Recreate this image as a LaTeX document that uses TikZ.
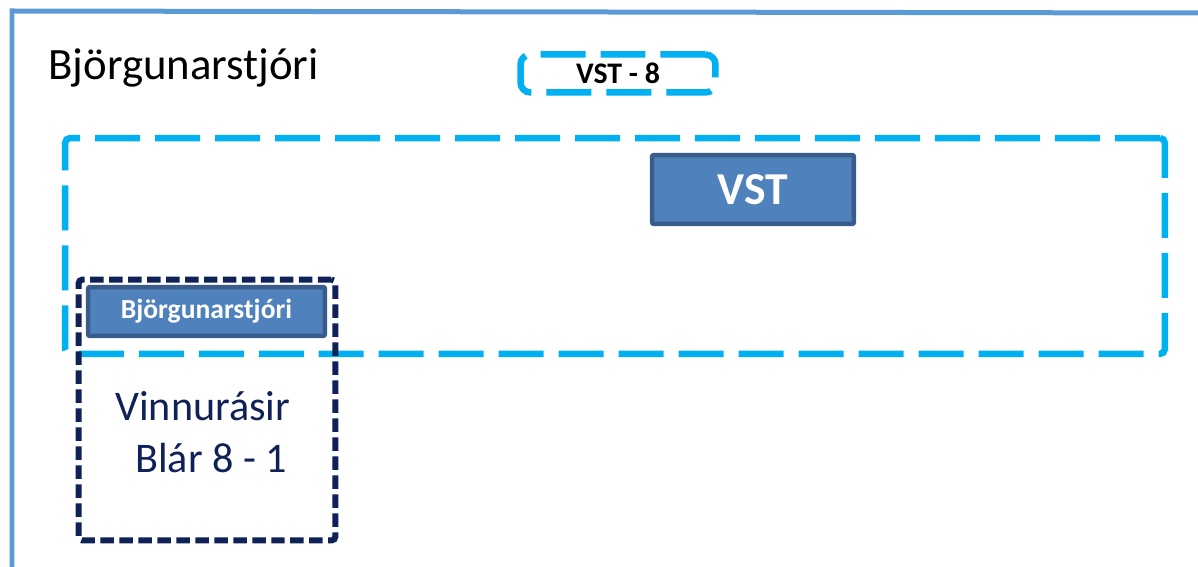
\documentclass[tikz,border=0pt]{standalone}
\usepackage{fontspec}
\setmainfont{Carlito}
\usepackage{tikz}
\usepackage{xcolor}
\definecolor{rammi}{HTML}{5B9BD5}
\definecolor{ljosblar}{HTML}{00B0F0}
\definecolor{kassi}{HTML}{4F81BD}
\definecolor{kassibrun}{HTML}{385D8A}
\definecolor{dokkblar}{HTML}{0F2157}
\tikzset{
	hlutverk/.style={
		draw=kassibrun,
		fill=kassi,
		line width=0.09cm,
		rounded corners=0.04cm,
		text=white,
		%font=\bfseries,
		inner sep=0
	}
}

\begin{document}
\begin{tikzpicture}[x=0.02cm,y=-0.02cm,
	hopur/.style={draw=ljosblar,line width=0.13cm,dash pattern=on 0.9cm off 0.3cm,rounded corners=0.1cm,inner sep=0},
	vinna/.style={draw=dokkblar,line width=0.12cm,dash pattern=on 0.27cm off 0.11cm,rounded corners=0.08cm,inner sep=0}]
	
	% (Bjorgunarstjori - VST - 8)
	\fill[white] (0,0) rectangle (1198,567);
	\useasboundingbox (0,0) rectangle (1198,567);
	\draw[rammi,line width=0.1cm] (12,567) -- (12,11) -- (1198,13);
	\node[anchor=base west,inner sep=0,font=\fontsize{25.5pt}{30pt}\selectfont] (titill) at (48,80) {Björgunarstjóri};
	\node[hopur,rounded corners=0.2cm,minimum width=3.9cm,minimum height=0.76cm,font=\fontsize{17pt}{18pt}\selectfont\bfseries] (vst8) at (618,73.5) {VST - 8\hspace{0.2cm}};
	\node[hopur,minimum width=22cm,minimum height=4.32cm] (vsthopur) at (615,246) {};
	\node[vinna,minimum width=5.14cm,minimum height=5.22cm] (vinnurasir) at (207,410) {};
	\node[hlutverk,minimum width=4.04cm,minimum height=1.38cm,font=\fontsize{26pt}{28pt}\selectfont\bfseries] (vst) at (753,189.5) {VST};
	\node[hlutverk,minimum width=4.74cm,minimum height=0.98cm,font=\fontsize{15.7pt}{18pt}\selectfont\bfseries] (bstj) at (206.5,311.5) {Björgunarstjóri};
	\node[anchor=base west,inner sep=0,align=left,text=dokkblar,font=\fontsize{24pt}{30pt}\selectfont] (vinnutexti) at (115,473) {Vinnurásir\\\hspace{0.4cm}Blár 8 - 1};
\end{tikzpicture}
\end{document}
